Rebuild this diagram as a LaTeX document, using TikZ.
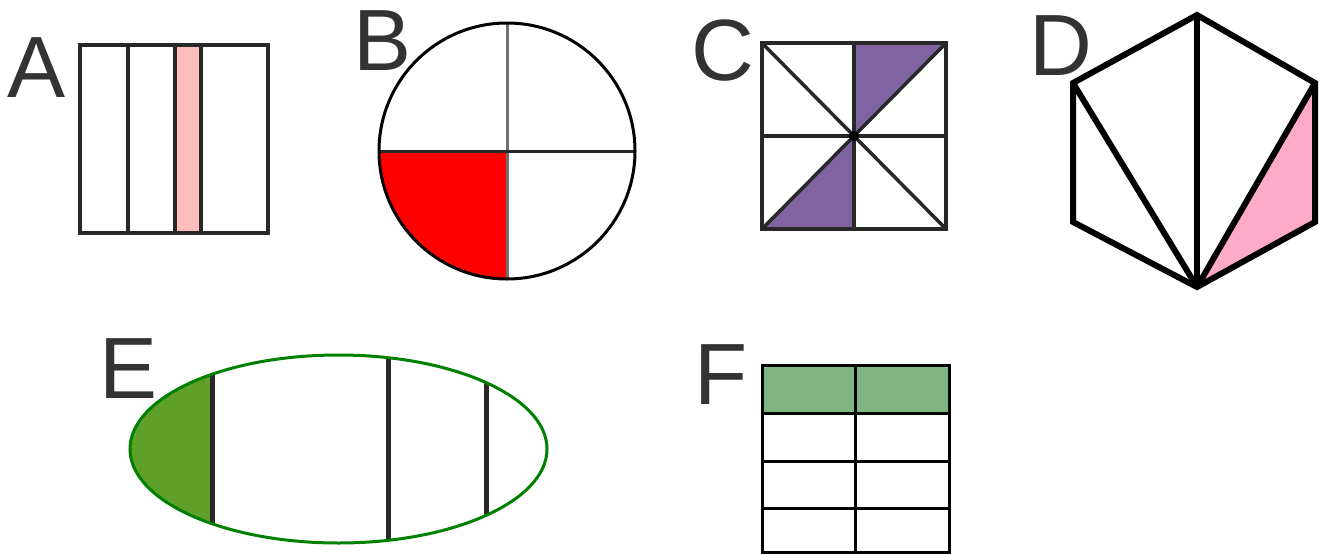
\documentclass[tikz,border=0pt]{standalone}
\usepackage{fontspec}
\setmainfont{Liberation Sans}
\usetikzlibrary{positioning}
\definecolor{LabelGray}  {RGB}{ 51,  51,  51}
\definecolor{LineDark}   {RGB}{ 40,  40,  40}
\definecolor{LineMid}    {RGB}{112, 112, 112}
\definecolor{PaleRed}    {RGB}{255, 190, 190}
\definecolor{QuarterRed} {RGB}{255,   0,   0}
\definecolor{SlicePurple}{RGB}{128, 100, 162}
\definecolor{SlicePink}  {RGB}{255, 170, 200}
\definecolor{RimGreen}   {RGB}{  0, 128,   0}
\definecolor{LeafGreen}  {RGB}{ 95, 160,  42}
\definecolor{HeadGreen}  {RGB}{128, 180, 128}
\tikzset{
  % Panel letter
  panellabel/.style={
    anchor=base west, inner sep=0pt,
    text=LabelGray, font=\fontsize{87}{87}\selectfont
  },
  % Thin grid / outline stroke
  gridline/.style={
    draw=LineDark, line width=3.5pt
  },
  % Heavy stroke of the hexagon
  heavyline/.style={
    draw=black, line width=6pt
  },
  % Divider inside the ellipse
  divider/.style={
    draw=LineDark, line width=5pt
  }
}

\begin{document}
\begin{tikzpicture}[x=1pt, y=-1pt]
  \useasboundingbox[fill=white] (0,0) rectangle (1327,554);

  % ── Panel letters ─────────────────────────────────────────────────────────
  \node[panellabel] (labA) at (7,97)    {A};
  \node[panellabel] (labB) at (353,70)  {B};
  \node[panellabel] (labC) at (691,80)  {C};
  \node[panellabel] (labD) at (1029,75) {D};
  \node[panellabel] (labE) at (99,398)  {E};
  \node[panellabel] (labF) at (694,404) {F};

  % ── A: strips ─────────────────────────────────────────────────────────────
  \fill[PaleRed] (175,45) rectangle (201,233);
  \foreach \x in {128,175,201}
    \draw[gridline] (\x,45) -- (\x,233);
  \draw[gridline] (80,45) rectangle (268,233);

  % ── B: circle in quarters ─────────────────────────────────────────────────
  \fill[QuarterRed] (507,151) -- (379,151)
        arc[start angle=180, end angle=90, radius=128] -- cycle;
  \draw[draw=LineMid, line width=3pt] (507,23) -- (507,279);
  \draw[draw=LineDark, line width=3pt] (379,151) -- (635,151);
  \draw[draw=black, line width=3pt] (507,151) circle[radius=128];

  % ── C: square in eighths ──────────────────────────────────────────────────
  \fill[SlicePurple] (854,136) -- (854,43) -- (946,43) -- cycle;
  \fill[SlicePurple] (854,136) -- (762,229) -- (854,229) -- cycle;
  \draw[gridline] (854,43) -- (854,229);
  \draw[gridline] (762,136) -- (946,136);
  \draw[gridline] (762,43) -- (946,229);
  \draw[gridline] (762,229) -- (946,43);
  \draw[gridline] (762,43) rectangle (946,229);
  \fill[black] (854,136) circle[radius=5];

  % ── D: hexagon fan ────────────────────────────────────────────────────────
  \fill[SlicePink] (1197,287) -- (1315,83) -- (1315,222) -- cycle;
  \draw[heavyline] (1197,287) -- (1197,15);
  \draw[heavyline] (1197,287) -- (1073,83);
  \draw[heavyline] (1197,287) -- (1315,83);
  \draw[heavyline] (1197,15) -- (1315,83) -- (1315,222) -- (1197,287)
        -- (1073,222) -- (1073,83) -- cycle;

  % ── E: ellipse with dividers ──────────────────────────────────────────────
  \begin{scope}
    \clip (338.5,449) ellipse[x radius=208.5, y radius=94];
    \fill[LeafGreen] (120,340) rectangle (212,560);
  \end{scope}
  \draw[divider] (212,374) -- (212,524);
  \draw[divider] (388,357) -- (388,541);
  \draw[divider] (486,383) -- (486,515);
  \draw[draw=RimGreen, line width=3pt]
        (338.5,449) ellipse[x radius=208.5, y radius=94];

  % ── F: table ──────────────────────────────────────────────────────────────
  \fill[HeadGreen] (762,365) rectangle (949,413);
  \foreach \y in {413,461,508}
    \draw[draw=black, line width=3pt] (762,\y) -- (949,\y);
  \draw[draw=black, line width=3pt] (855,365) -- (855,552);
  \draw[draw=black, line width=3pt] (762,365) rectangle (949,552);

\end{tikzpicture}
\end{document}
